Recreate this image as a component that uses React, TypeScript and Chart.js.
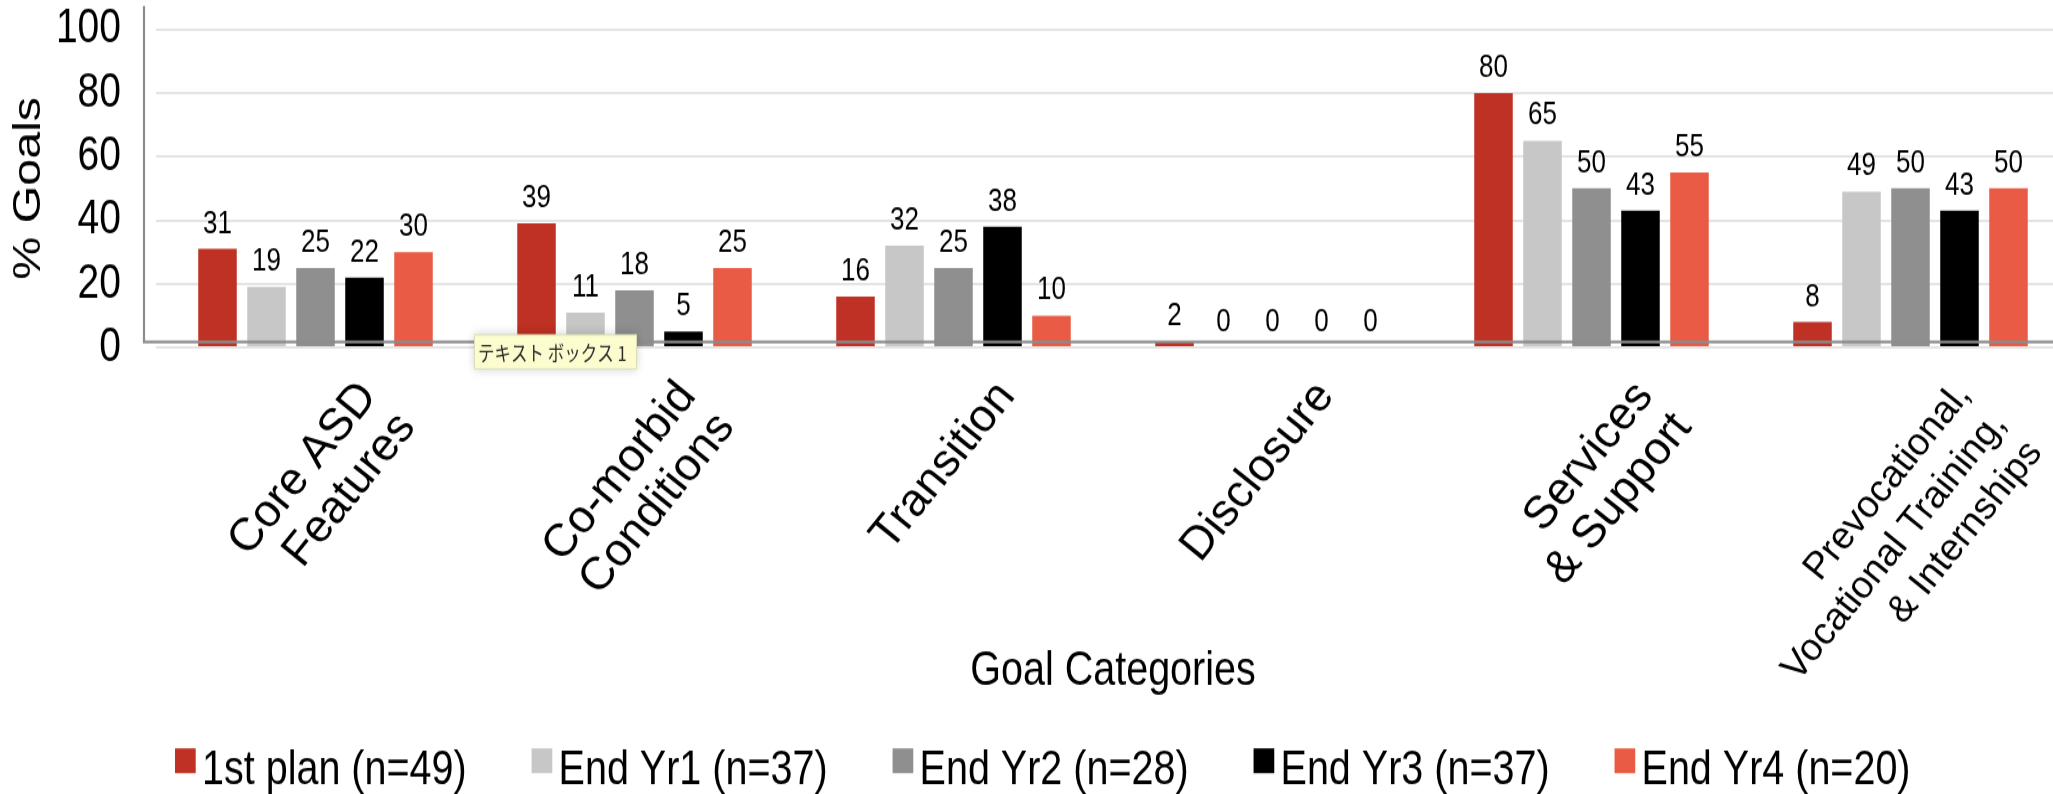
import React, { useEffect, useRef } from "react";
import { Chart, registerables } from "chart.js";

Chart.register(...registerables);

// ---------- data ----------
const categories: (string | string[])[] = [
  ["Core ASD", "Features"],
  ["Co-morbid", "Conditions"],
  "Transition",
  "Disclosure",
  ["Services", "& Support"],
  ["Prevocational,", "Vocational Training,", "& Internships"],
];
const seriesLabels = [
  "1st plan (n=49)",
  "End Yr1 (n=37)",
  "End Yr2 (n=28)",
  "End Yr3 (n=37)",
  "End Yr4 (n=20)",
];
const firstPlan = [31, 39, 16, 2, 80, 8];
const endYr1 = [19, 11, 32, 0, 65, 49];
const endYr2 = [25, 18, 25, 0, 50, 50];
const endYr3 = [22, 5, 38, 0, 43, 43];
const endYr4 = [30, 25, 10, 0, 55, 50];
const yTicks = [0, 20, 40, 60, 80, 100];
const seriesColors = ["#BE3124", "#C7C7C7", "#8F8F8F", "#000000", "#E95B44"];
const yTitle = "% Goals";
const xTitle = "Goal Categories";
const noteText = "テキスト ボックス 1";

// ---------- layout ----------
const FONT = "'Liberation Sans', Arial, Helvetica, sans-serif";
const CANVAS_W = 2070;
const CANVAS_H = 640;
const STRETCH = 794 / CANVAS_H;

const axisLinesPlugin = {
  id: "axisLines",
  afterDatasetsDraw(chart: any) {
    const { ctx, chartArea, scales } = chart;
    const yLine = scales.y.getPixelForValue(0) - 4.5;
    const xLine = chartArea.left - 12;
    ctx.save();
    ctx.strokeStyle = "#8c8c8c";
    ctx.lineWidth = 2.2;
    ctx.beginPath();
    ctx.moveTo(xLine, 4.8);
    ctx.lineTo(xLine, yLine);
    ctx.lineTo(chart.width, yLine);
    ctx.stroke();
    ctx.restore();
  },
};

const valueLabelPlugin = {
  id: "valueLabels",
  afterDatasetsDraw(chart: any) {
    const { ctx } = chart;
    ctx.save();
    ctx.font = `26px ${FONT}`;
    ctx.fillStyle = "#000";
    ctx.textAlign = "center";
    ctx.textBaseline = "alphabetic";
    chart.data.datasets.forEach((ds: any, i: number) => {
      const meta = chart.getDatasetMeta(i);
      meta.data.forEach((bar: any, j: number) => {
        ctx.fillText(String(ds.data[j]), bar.x, bar.y - 13);
      });
    });
    ctx.restore();
  },
};

// category labels: rotated text drawn without the vertical stretch (no shear)
const categoryLabelPlugin = {
  id: "categoryLabels",
  afterDraw(chart: any) {
    const { ctx, scales } = chart;
    const xs = scales.x;
    const ang = (51 * Math.PI) / 180;
    ctx.save();
    ctx.fillStyle = "#000";
    ctx.textAlign = "right";
    ctx.textBaseline = "middle";
    (chart.data.labels as any[]).forEach((lab: any, i: number) => {
      const lines: string[] = Array.isArray(lab) ? lab : [lab];
      const small = lines.length > 2;
      const size = small ? 38 : 46;
      const lh = small ? 46 : 49.5;
      const ax = xs.getPixelForTick(i) + 53;
      const ay = 388.5 / STRETCH;
      ctx.save();
      ctx.translate(ax, ay);
      ctx.scale(1, 1 / STRETCH);
      ctx.rotate(-ang);
      ctx.font = `${size}px ${FONT}`;
      lines.forEach((ln, j) => ctx.fillText(ln, 0, j * lh));
      ctx.restore();
    });
    ctx.restore();
  },
};

const noteBoxPlugin = {
  id: "noteBox",
  afterDraw(chart: any) {
    const { ctx, scales } = chart;
    const left = scales.x.getPixelForValue(1) - 160.5;
    const top = scales.y.getPixelForValue(0) - 10.7;
    const w = 163;
    const h = 28.5;
    ctx.save();
    ctx.shadowColor = "rgba(0,0,0,0.18)";
    ctx.shadowBlur = 8;
    ctx.fillStyle = "#FCFCCF";
    ctx.fillRect(left, top, w, h);
    ctx.shadowColor = "transparent";
    ctx.shadowBlur = 0;
    ctx.strokeStyle = "rgba(0,0,0,0.12)";
    ctx.lineWidth = 1;
    ctx.strokeRect(left + 0.5, top + 0.5, w - 1, h - 1);
    ctx.font = `16.5px 'Noto Sans CJK JP', sans-serif`;
    ctx.fillStyle = "#2a2a2a";
    ctx.textAlign = "left";
    ctx.textBaseline = "middle";
    ctx.fillText(noteText, left + 4, top + h / 2 + 1.5);
    ctx.restore();
  },
};

const legendPlugin = {
  id: "customLegend",
  afterDraw(chart: any) {
    const { ctx } = chart;
    ctx.save();
    ctx.font = `39.5px ${FONT}`;
    ctx.textAlign = "left";
    ctx.textBaseline = "alphabetic";
    let x = 175;
    chart.data.datasets.forEach((ds: any) => {
      ctx.fillStyle = ds.backgroundColor;
      ctx.fillRect(x, 603.2, 20.7, 20);
      ctx.fillStyle = "#000";
      ctx.fillText(ds.label, x + 27, 631.5);
      x += 27 + ctx.measureText(ds.label).width + 65;
    });
    ctx.restore();
  },
};

export default function App() {
  const canvasRef = useRef<HTMLCanvasElement | null>(null);

  useEffect(() => {
    if (!canvasRef.current) return;
    const seriesValues = [firstPlan, endYr1, endYr2, endYr3, endYr4];
    const chart = new Chart(canvasRef.current, {
      type: "bar",
      data: {
        labels: categories,
        datasets: seriesValues.map((vals, i) => ({
          label: seriesLabels[i],
          data: vals,
          backgroundColor: seriesColors[i],
          borderWidth: 0,
          categoryPercentage: 0.768,
          barPercentage: 0.786,
        })),
      },
      options: {
        responsive: false,
        animation: false,
        devicePixelRatio: 1,
        layout: { padding: { top: 23.6, bottom: 70, left: 0, right: 0 } },
        plugins: {
          legend: { display: false },
          tooltip: { enabled: false },
          title: { display: false },
        },
        scales: {
          x: {
            grid: { display: false, drawTicks: false },
            border: { display: false },
            ticks: { display: false, autoSkip: false },
            title: {
              display: true,
              text: xTitle,
              color: "#000",
              font: { family: FONT, size: 39.5, lineHeight: 1.2 },
              padding: { top: 0, bottom: 4.8 },
            },
            afterFit: (s: any) => {
              s.height = 289.9;
              s.paddingLeft = 0;
              s.paddingRight = 0;
            },
          },
          y: {
            min: yTicks[0],
            max: yTicks[yTicks.length - 1],
            ticks: {
              stepSize: yTicks[1] - yTicks[0],
              autoSkip: false,
              padding: 35,
              color: "#000",
              font: { family: FONT, size: 39 },
            },
            grid: { color: "#e4e4e4", lineWidth: 2, drawTicks: false },
            border: { display: false },
            title: {
              display: true,
              text: yTitle,
              color: "#000",
              font: { family: FONT, size: 39, lineHeight: 1.2 },
              padding: { top: 6, bottom: 0 },
            },
            afterFit: (s: any) => {
              s.width = 156;
              s.paddingTop = 0;
              s.paddingBottom = 0;
            },
          },
        },
      } as any,
      plugins: [
        axisLinesPlugin,
        valueLabelPlugin,
        categoryLabelPlugin,
        noteBoxPlugin,
        legendPlugin,
      ],
    });
    return () => chart.destroy();
  }, []);

  return (
    <div
      style={{
        position: "fixed",
        left: 0,
        top: 0,
        width: 2053,
        height: 794,
        overflow: "hidden",
        background: "#fff",
      }}
    >
      <div
        style={{
          width: CANVAS_W,
          height: CANVAS_H,
          transform: `scaleY(${STRETCH})`,
          transformOrigin: "0 0",
        }}
      >
        <canvas
          ref={canvasRef}
          width={CANVAS_W}
          height={CANVAS_H}
          style={{ width: CANVAS_W, height: CANVAS_H, display: "block" }}
        />
      </div>
    </div>
  );
}
